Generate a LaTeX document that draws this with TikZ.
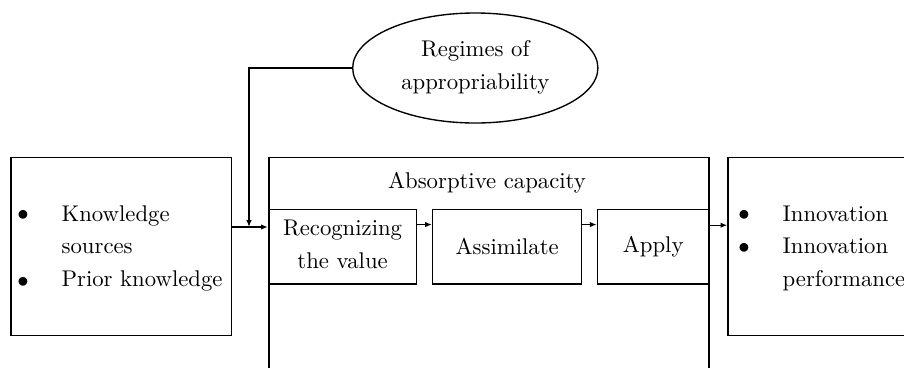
\documentclass[tikz,border=0pt]{standalone}
\usetikzlibrary{shapes.geometric,arrows.meta}
\begin{document}
\begin{tikzpicture}[x=0.44pt,y=-0.44pt,
  line width=0.6pt,
  box/.style={draw,rectangle,inner sep=0pt},
  txt/.style={inner sep=0pt,anchor=base west,font=\normalsize},
  ctr/.style={inner sep=0pt,align=center,font=\normalsize},
  dot/.style={inner sep=0pt},
  arr/.style={-{Latex[length=3pt,width=2.4pt]}}]
\useasboundingbox (0,0) rectangle (904,367);
\clip (0,0) rectangle (904,367);

% input box
\node[box,minimum width=97.1pt,minimum height=78.5pt] (src) at (121.3,246.5) {};
\node[dot] (b1) at (23,215) {$\bullet$};
\node[txt] (t1) at (61,221.7) {Knowledge};
\node[txt] (t2) at (61,253) {sources};
\node[dot] (b2) at (23,282) {$\bullet$};
\node[txt] (t3) at (61,286.7) {Prior knowledge};

% absorptive capacity frame (open at the bottom)
\node[box,minimum width=193.6pt,minimum height=115.4pt] (absorb) at (489,288.9) {};
\node[ctr] (abslabel) at (487,183) {Absorptive capacity};

% the three stages
\node[box,minimum width=65.2pt,minimum height=32.9pt,ctr] (rec) at (342.6,246.6)
  {\begin{tabular}{@{}c@{}}Recognizing\\[2.5pt]the value\end{tabular}};
\node[box,minimum width=65.6pt,minimum height=32.9pt,ctr] (ass) at (507.2,246.6) {Assimilate};
\node[box,minimum width=49.1pt,minimum height=32.9pt,ctr] (app) at (653.2,246.6) {\raisebox{1.5pt}{Apply}};

% output box
\node[box,minimum width=105.6pt,minimum height=78.3pt] (out) at (848,246.5) {};
\node[dot] (c1) at (744,215) {$\bullet$};
\node[txt] (u1) at (782,221.7) {Innovation};
\node[dot] (c2) at (744,248) {$\bullet$};
\node[txt] (u2) at (782,253) {Innovation};
\node[txt] (u3) at (782,286.7) {performance};

% appropriability regimes
\node[draw,ellipse,inner sep=0pt,minimum width=107.9pt,minimum height=48.4pt,ctr] (reg) at (475.3,68)
  {\begin{tabular}{@{}c@{}}Regimes of\\[2.5pt]appropriability\end{tabular}};

% connectors
\coordinate (jn) at (249,227);
\draw[arr] (src.east |- jn) -- (rec.west |- jn);
\draw[arr] (reg.west) -| (jn);
\draw[arr] ([yshift=9.7pt]rec.east) -- ([yshift=9.7pt]ass.west);
\draw[arr] ([yshift=9.7pt]ass.east) -- ([yshift=9.7pt]app.west);
\draw[arr] ([yshift=9.4pt]app.east) -- ([yshift=9.4pt]app.east -| out.west);
\end{tikzpicture}
\end{document}
